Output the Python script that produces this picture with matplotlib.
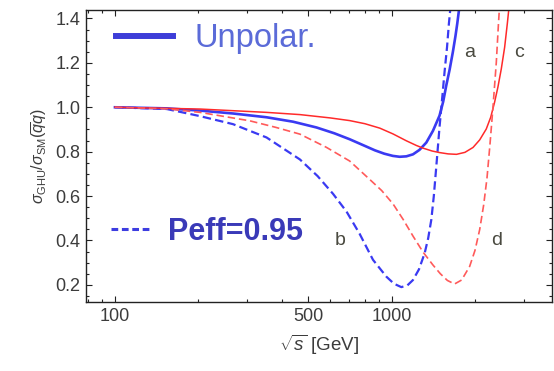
"""
plot.py

GHU / SM cross-section ratio vs sqrt(s), log x axis.
"""

import matplotlib
matplotlib.use("Agg")
import matplotlib.pyplot as plt
import matplotlib.ticker as ticker
from matplotlib.lines import Line2D


# ─────────────────────────────────────────────
# data
# ─────────────────────────────────────────────

# a : unpolarized, blue solid
a_s = [100, 154, 203, 267, 353, 440, 535, 620, 705, 800, 870, 940, 1010, 1069,
       1130, 1194, 1260, 1334, 1410, 1489, 1535, 1575, 1620, 1664, 1700, 1726,
       1760]
a_r = [1.0, 0.995, 0.985, 0.972, 0.955, 0.935, 0.909, 0.883, 0.856, 0.826,
       0.806, 0.791, 0.781, 0.777, 0.779, 0.788, 0.808, 0.841, 0.894, 0.962,
       1.025, 1.098, 1.17, 1.249, 1.32, 1.377, 1.46]

# b : Peff = 0.95, blue dashed
b_s = [100, 154, 203, 267, 353, 466, 540, 614, 687, 766, 856, 957, 1020, 1084,
       1140, 1194, 1255, 1316, 1355, 1391, 1420, 1449, 1489, 1530, 1553, 1585,
       1610, 1640]
b_r = [1.0, 0.992, 0.96, 0.924, 0.864, 0.765, 0.69, 0.61, 0.53, 0.43, 0.313,
       0.237, 0.205, 0.19, 0.198, 0.222, 0.27, 0.343, 0.41, 0.494, 0.6, 0.73,
       0.91, 1.07, 1.16, 1.27, 1.377, 1.48]

# c : unpolarized, red solid
c_s = [100, 203, 353, 466, 600, 705, 800, 906, 1011, 1130, 1228, 1298, 1400,
       1489, 1600, 1715, 1840, 1968, 2080, 2197, 2280, 2355, 2420, 2490, 2560,
       2618, 2660]
c_r = [1.0, 0.992, 0.977, 0.967, 0.952, 0.94, 0.926, 0.906, 0.88, 0.849,
       0.828, 0.816, 0.803, 0.796, 0.79, 0.788, 0.797, 0.819, 0.853, 0.902,
       0.955, 1.023, 1.09, 1.173, 1.27, 1.377, 1.46]

# d : Peff = 0.95, red dashed
d_s = [100, 154, 203, 307, 380, 466, 580, 705, 833, 920, 1011, 1100, 1194,
       1298, 1409, 1500, 1590, 1687, 1790, 1913, 2000, 2080, 2150, 2210, 2265,
       2320, 2388, 2432, 2455]
d_r = [1.0, 0.993, 0.977, 0.939, 0.91, 0.879, 0.82, 0.758, 0.675, 0.625,
       0.565, 0.495, 0.42, 0.348, 0.29, 0.25, 0.22, 0.204, 0.222, 0.283, 0.355,
       0.449, 0.56, 0.68, 0.83, 0.99, 1.2, 1.377, 1.46]

curve_tags = ["a", "b", "c", "d"]
tag_s = [1915, 649, 2897, 2395]
tag_r = [1.245, 0.40, 1.245, 0.40]

x_major = [100, 500, 1000]
y_major = [0.2, 0.4, 0.6, 0.8, 1.0, 1.2, 1.4]


# ─────────────────────────────────────────────
# style
# ─────────────────────────────────────────────

BLUE = "#3a3af2"
RED = "#ff2a2a"
RED_D = "#ff5a5a"
TEXT = "#3c3c3c"

plt.rcParams["font.family"] = ["Liberation Sans", "DejaVu Sans"]
plt.rcParams["mathtext.fontset"] = "custom"
plt.rcParams["mathtext.rm"] = "Liberation Sans"
plt.rcParams["mathtext.it"] = "Liberation Sans:italic"

fig = plt.figure(figsize=(5.54, 3.71), dpi=100)
ax = fig.add_axes([0.155, 0.186, 0.841, 0.787])

ax.plot(a_s, a_r, color=BLUE, lw=1.9)
ax.plot(b_s, b_r, color=BLUE, lw=1.6, dashes=(3.8, 1.9))
ax.plot(c_s, c_r, color=RED, lw=1.1)
ax.plot(d_s, d_r, color=RED_D, lw=1.2, dashes=(4.5, 2.3))

for tag, s, r in zip(curve_tags, tag_s, tag_r):
    ax.text(s, r, tag, fontsize=14, color="#4a4a40", ha="center", va="center")

ax.set_xscale("log")
ax.set_xlim(78.5, 3790)
ax.set_ylim(0.123, 1.438)

ax.xaxis.set_major_locator(ticker.FixedLocator(x_major))
ax.xaxis.set_major_formatter(ticker.FixedFormatter([str(v) for v in x_major]))
ax.xaxis.set_minor_locator(ticker.LogLocator(base=10, subs=range(2, 10), numticks=20))
ax.xaxis.set_minor_formatter(ticker.NullFormatter())
ax.yaxis.set_major_locator(ticker.FixedLocator(y_major))
ax.yaxis.set_major_formatter(ticker.FormatStrFormatter("%.1f"))
ax.yaxis.set_minor_locator(ticker.MultipleLocator(0.05))

ax.tick_params(which="both", direction="in", top=True, right=True,
               color="#222222", width=0.8)
ax.tick_params(which="major", length=4.5, labelsize=13, labelcolor=TEXT, pad=4)
ax.tick_params(which="minor", length=2.3)
for sp in ax.spines.values():
    sp.set_linewidth(1.0)
    sp.set_color("#222222")

ax.set_ylabel(r"$\sigma_{\rm GHU}/\sigma_{\rm SM}(\overline{q}q)$",
              fontsize=11.5, color=TEXT, labelpad=4)
ax.set_xlabel(r"$\sqrt{s}$ [GeV]", fontsize=13.5, color=TEXT, labelpad=6)

# legends (two separate boxes, as in the original)
h1 = Line2D([], [], color="#3d3dd8", lw=4.3)
leg1 = ax.legend([h1], ["Unpolar."], loc="upper left",
                 bbox_to_anchor=(0.065, 0.955), frameon=False,
                 prop={"family": "Liberation Sans", "size": 23.5},
                 handlelength=1.75, handletextpad=0.65,
                 borderpad=0, borderaxespad=0, labelcolor="#5b6bd8")
ax.add_artist(leg1)

h2 = Line2D([], [], color="#3d3de0", lw=2.2, dashes=(2.2, 1.2))
ax.legend([h2], ["Peff=0.95"], loc="center left",
          bbox_to_anchor=(0.055, 0.24), frameon=False,
          prop={"family": "Liberation Sans", "size": 22, "weight": "bold"},
          handlelength=1.25, handletextpad=0.6,
          borderpad=0, borderaxespad=0, labelcolor="#3a3ab8")

fig.savefig("out.png", dpi=100)
